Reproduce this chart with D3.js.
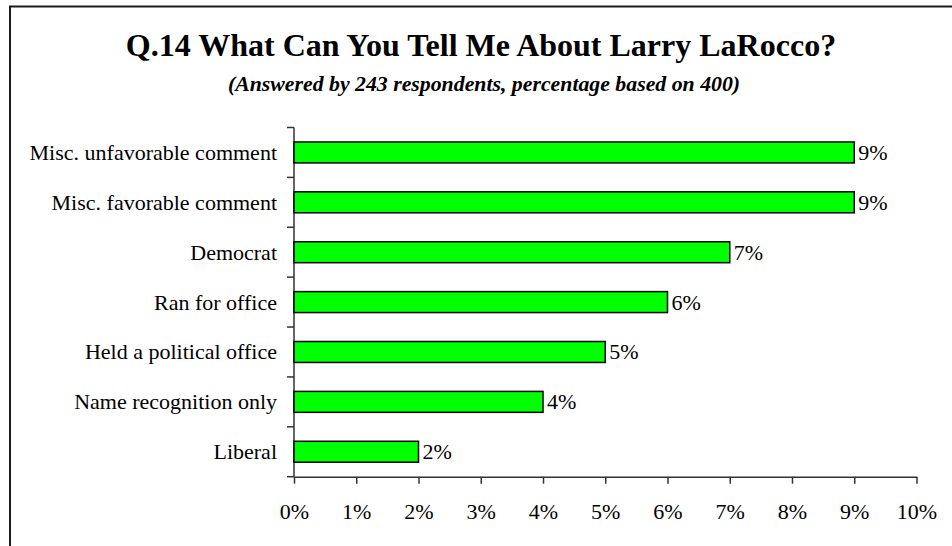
<!DOCTYPE html>
<html>
<head>
<meta charset="utf-8">
<script src="https://cdn.jsdelivr.net/npm/d3@7/dist/d3.min.js"></script>
<style>
  html, body { margin: 0; padding: 0; background: #fff; }
  svg { display: block; }
  text { font-family: "Liberation Serif", "Times New Roman", serif; fill: #000; }
</style>
</head>
<body>
<svg id="chart" width="952" height="546"></svg>
<script>
// Survey answers, top to bottom
const categories = [
  "Misc. unfavorable comment",
  "Misc. favorable comment",
  "Democrat",
  "Ran for office",
  "Held a political office",
  "Name recognition only",
  "Liberal"
];
const values = [9, 9, 7, 6, 5, 4, 2];
const xTicks = [0, 1, 2, 3, 4, 5, 6, 7, 8, 9, 10];

const titleText = "Q.14 What Can You Tell Me About Larry LaRocco?";
const subtitleText = "(Answered by 243 respondents, percentage based on 400)";

(function draw() {
  const svg = d3.select("#chart");

  // Frame around the chart area
  svg.append("rect")
    .attr("x", 10).attr("y", 6.5)
    .attr("width", 1000).attr("height", 600)
    .attr("fill", "#fff")
    .attr("stroke", "#1a1a1a")
    .attr("stroke-width", 2);

  // Titles
  svg.append("text")
    .attr("x", 481).attr("y", 56)
    .attr("text-anchor", "middle")
    .style("font-size", "32px")
    .style("font-weight", "bold")
    .text(titleText);

  svg.append("text")
    .attr("x", 484).attr("y", 91)
    .attr("text-anchor", "middle")
    .style("font-size", "21.8px")
    .style("font-weight", "bold")
    .style("font-style", "italic")
    .text(subtitleText);

  // Plot area
  const pLeft = 294, pRight = 916.5, pTop = 127.5, pBottom = 476.7;

  const x = d3.scaleLinear().domain([0, 10]).range([pLeft, pRight]);
  const y = d3.scaleBand().domain(categories).range([pTop, pBottom])
    .paddingInner(0.58).paddingOuter(0.29);

  const axisColor = "#333";

  // Y axis: line plus boundary ticks between categories
  const yEdges = d3.range(categories.length + 1)
    .map(i => pTop + i * (pBottom - pTop) / categories.length);

  svg.append("line")
    .attr("x1", pLeft).attr("x2", pLeft)
    .attr("y1", pTop).attr("y2", pBottom)
    .attr("stroke", axisColor).attr("stroke-width", 1.5);

  svg.selectAll(".ytick").data(yEdges).enter().append("line")
    .attr("class", "ytick")
    .attr("x1", pLeft - 7).attr("x2", pLeft)
    .attr("y1", d => d).attr("y2", d => d)
    .attr("stroke", axisColor).attr("stroke-width", 1.5);

  // X axis
  const xAxis = d3.axisBottom(x)
    .tickValues(xTicks)
    .tickSize(7)
    .tickSizeOuter(0)
    .tickPadding(20)
    .tickFormat(d => d + "%");

  const gx = svg.append("g")
    .attr("transform", `translate(0,${pBottom})`)
    .call(xAxis);
  gx.select(".domain").attr("stroke", axisColor).attr("stroke-width", 1.5);
  gx.selectAll(".tick line").attr("stroke", axisColor).attr("stroke-width", 1.5);
  gx.selectAll(".tick text")
    .style("font-family", "'Liberation Serif', 'Times New Roman', serif")
    .style("font-size", "22px")
    .attr("fill", "#000");

  // Bars
  svg.selectAll(".bar").data(values).enter().append("rect")
    .attr("class", "bar")
    .attr("x", x(0))
    .attr("y", (d, i) => y(categories[i]))
    .attr("width", d => x(d) - x(0))
    .attr("height", y.bandwidth())
    .attr("fill", "#00ff00")
    .attr("stroke", "#000")
    .attr("stroke-width", 1.5);

  // Category labels
  svg.selectAll(".cat").data(categories).enter().append("text")
    .attr("class", "cat")
    .attr("x", pLeft - 17)
    .attr("y", d => y(d) + y.bandwidth() / 2)
    .attr("dy", "0.34em")
    .attr("text-anchor", "end")
    .style("font-size", "22px")
    .text(d => d);

  // Value labels
  svg.selectAll(".val").data(values).enter().append("text")
    .attr("class", "val")
    .attr("x", d => x(d) + 4)
    .attr("y", (d, i) => y(categories[i]) + y.bandwidth() / 2)
    .attr("dy", "0.34em")
    .style("font-size", "22px")
    .text(d => d + "%");
})();
</script>
</body>
</html>
